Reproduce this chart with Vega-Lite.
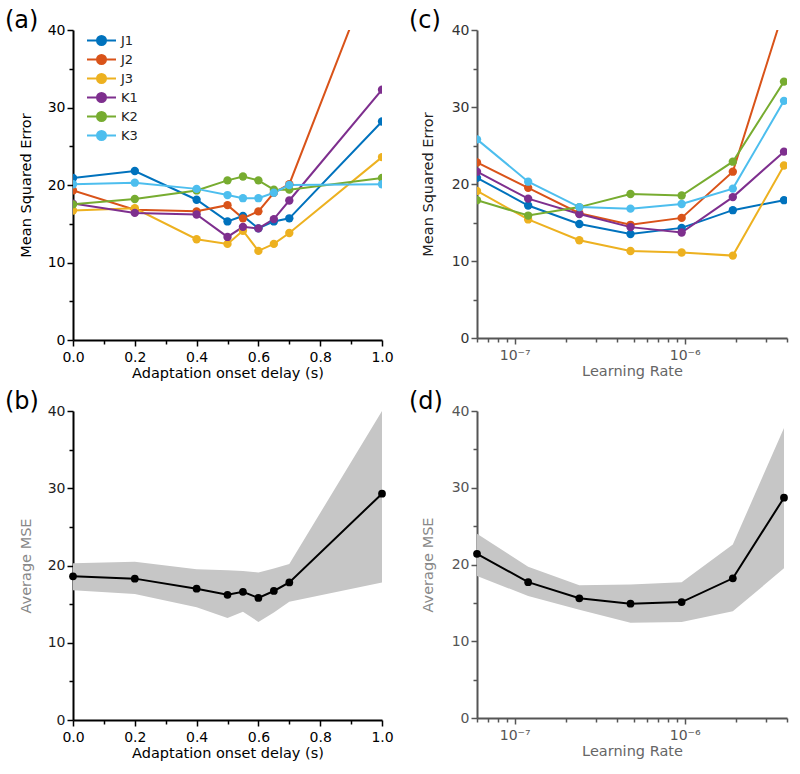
{
  "$schema": "https://vega.github.io/schema/vega-lite/v6.json",
  "padding": {"left": 5, "top": 9, "right": 5, "bottom": 5},
  "config": {
    "font": "DejaVu Sans",
    "view": {"stroke": null},
    "title": {"font": "DejaVu Sans"},
    "axis": {"grid": false, "labelFont": "DejaVu Sans", "titleFont": "DejaVu Sans", "domainColor": "black", "domainWidth": 2, "tickColor": "black", "tickWidth": 1.5, "labelFontSize": 14, "titleFontSize": 14.5, "labelColor": "black", "titleColor": "black", "titleFontWeight": "normal", "labelFlush": false, "labelOverlap": false, "labelBound": false}
  },
  "datasets": {
    "a": [
      {"x": 0, "s": "J1", "v": 20.9}, {"x": 0.2, "s": "J1", "v": 21.8}, {"x": 0.4, "s": "J1", "v": 18.1}, {"x": 0.5, "s": "J1", "v": 15.3}, {"x": 0.55, "s": "J1", "v": 16.0}, {"x": 0.6, "s": "J1", "v": 14.4}, {"x": 0.65, "s": "J1", "v": 15.3}, {"x": 0.7, "s": "J1", "v": 15.7}, {"x": 1.0, "s": "J1", "v": 28.2},
      {"x": 0, "s": "J2", "v": 19.3}, {"x": 0.2, "s": "J2", "v": 16.8}, {"x": 0.4, "s": "J2", "v": 16.6}, {"x": 0.5, "s": "J2", "v": 17.4}, {"x": 0.55, "s": "J2", "v": 15.7}, {"x": 0.6, "s": "J2", "v": 16.6}, {"x": 0.65, "s": "J2", "v": 19.0}, {"x": 0.7, "s": "J2", "v": 20.1}, {"x": 1.0, "s": "J2", "v": 50.9},
      {"x": 0, "s": "J3", "v": 16.7}, {"x": 0.2, "s": "J3", "v": 17.0}, {"x": 0.4, "s": "J3", "v": 13.0}, {"x": 0.5, "s": "J3", "v": 12.4}, {"x": 0.55, "s": "J3", "v": 14.1}, {"x": 0.6, "s": "J3", "v": 11.5}, {"x": 0.65, "s": "J3", "v": 12.4}, {"x": 0.7, "s": "J3", "v": 13.8}, {"x": 1.0, "s": "J3", "v": 23.6},
      {"x": 0, "s": "K1", "v": 17.6}, {"x": 0.2, "s": "K1", "v": 16.4}, {"x": 0.4, "s": "K1", "v": 16.2}, {"x": 0.5, "s": "K1", "v": 13.3}, {"x": 0.55, "s": "K1", "v": 14.6}, {"x": 0.6, "s": "K1", "v": 14.4}, {"x": 0.65, "s": "K1", "v": 15.6}, {"x": 0.7, "s": "K1", "v": 18.0}, {"x": 1.0, "s": "K1", "v": 32.3},
      {"x": 0, "s": "K2", "v": 17.5}, {"x": 0.2, "s": "K2", "v": 18.2}, {"x": 0.4, "s": "K2", "v": 19.3}, {"x": 0.5, "s": "K2", "v": 20.6}, {"x": 0.55, "s": "K2", "v": 21.1}, {"x": 0.6, "s": "K2", "v": 20.6}, {"x": 0.65, "s": "K2", "v": 19.4}, {"x": 0.7, "s": "K2", "v": 19.4}, {"x": 1.0, "s": "K2", "v": 20.9},
      {"x": 0, "s": "K3", "v": 20.1}, {"x": 0.2, "s": "K3", "v": 20.3}, {"x": 0.4, "s": "K3", "v": 19.5}, {"x": 0.5, "s": "K3", "v": 18.7}, {"x": 0.55, "s": "K3", "v": 18.3}, {"x": 0.6, "s": "K3", "v": 18.3}, {"x": 0.65, "s": "K3", "v": 19.0}, {"x": 0.7, "s": "K3", "v": 20.0}, {"x": 1.0, "s": "K3", "v": 20.1}
    ],
    "c": [
      {"x": 6e-8, "s": "J1", "v": 20.8}, {"x": 1.2e-7, "s": "J1", "v": 17.2}, {"x": 2.4e-7, "s": "J1", "v": 14.8}, {"x": 4.8e-7, "s": "J1", "v": 13.5}, {"x": 9.6e-7, "s": "J1", "v": 14.3}, {"x": 1.92e-6, "s": "J1", "v": 16.6}, {"x": 3.84e-6, "s": "J1", "v": 17.9},
      {"x": 6e-8, "s": "J2", "v": 22.8}, {"x": 1.2e-7, "s": "J2", "v": 19.5}, {"x": 2.4e-7, "s": "J2", "v": 16.2}, {"x": 4.8e-7, "s": "J2", "v": 14.7}, {"x": 9.6e-7, "s": "J2", "v": 15.6}, {"x": 1.92e-6, "s": "J2", "v": 21.6}, {"x": 3.84e-6, "s": "J2", "v": 42.7},
      {"x": 6e-8, "s": "J3", "v": 19.1}, {"x": 1.2e-7, "s": "J3", "v": 15.4}, {"x": 2.4e-7, "s": "J3", "v": 12.7}, {"x": 4.8e-7, "s": "J3", "v": 11.3}, {"x": 9.6e-7, "s": "J3", "v": 11.1}, {"x": 1.92e-6, "s": "J3", "v": 10.7}, {"x": 3.84e-6, "s": "J3", "v": 22.4},
      {"x": 6e-8, "s": "K1", "v": 21.6}, {"x": 1.2e-7, "s": "K1", "v": 18.1}, {"x": 2.4e-7, "s": "K1", "v": 16.1}, {"x": 4.8e-7, "s": "K1", "v": 14.4}, {"x": 9.6e-7, "s": "K1", "v": 13.7}, {"x": 1.92e-6, "s": "K1", "v": 18.3}, {"x": 3.84e-6, "s": "K1", "v": 24.2},
      {"x": 6e-8, "s": "K2", "v": 17.9}, {"x": 1.2e-7, "s": "K2", "v": 15.9}, {"x": 2.4e-7, "s": "K2", "v": 17.0}, {"x": 4.8e-7, "s": "K2", "v": 18.7}, {"x": 9.6e-7, "s": "K2", "v": 18.5}, {"x": 1.92e-6, "s": "K2", "v": 22.9}, {"x": 3.84e-6, "s": "K2", "v": 33.3},
      {"x": 6e-8, "s": "K3", "v": 25.8}, {"x": 1.2e-7, "s": "K3", "v": 20.3}, {"x": 2.4e-7, "s": "K3", "v": 17.0}, {"x": 4.8e-7, "s": "K3", "v": 16.8}, {"x": 9.6e-7, "s": "K3", "v": 17.4}, {"x": 1.92e-6, "s": "K3", "v": 19.4}, {"x": 3.84e-6, "s": "K3", "v": 30.8}
    ],
    "b": [
      {"x": 0, "m": 18.6, "lo": 16.8, "hi": 20.3},
      {"x": 0.2, "m": 18.3, "lo": 16.3, "hi": 20.5},
      {"x": 0.4, "m": 17.0, "lo": 14.6, "hi": 19.5},
      {"x": 0.5, "m": 16.2, "lo": 13.2, "hi": 19.4},
      {"x": 0.55, "m": 16.6, "lo": 14.0, "hi": 19.3},
      {"x": 0.6, "m": 15.8, "lo": 12.7, "hi": 19.1},
      {"x": 0.65, "m": 16.7, "lo": 13.9, "hi": 19.6},
      {"x": 0.7, "m": 17.8, "lo": 15.3, "hi": 20.2},
      {"x": 1.0, "m": 29.3, "lo": 17.8, "hi": 40.0}
    ],
    "d": [
      {"x": 6e-8, "m": 21.4, "lo": 18.5, "hi": 24.0},
      {"x": 1.2e-7, "m": 17.7, "lo": 15.9, "hi": 19.7},
      {"x": 2.4e-7, "m": 15.6, "lo": 14.1, "hi": 17.3},
      {"x": 4.8e-7, "m": 14.9, "lo": 12.4, "hi": 17.4},
      {"x": 9.6e-7, "m": 15.1, "lo": 12.5, "hi": 17.7},
      {"x": 1.92e-6, "m": 18.2, "lo": 13.9, "hi": 22.6},
      {"x": 3.84e-6, "m": 28.7, "lo": 19.5, "hi": 37.8}
    ]
  },
  "columns": 2,
  "spacing": {"row": 71, "column": 95},
  "bounds": "flush",
  "resolve": {"scale": {"color": "independent", "x": "independent", "y": "independent"}, "legend": {"color": "independent"}},
  "concat": [
    {
      "title": {"text": "(a)", "anchor": "start", "frame": "group", "dx": -68, "fontSize": 24, "fontWeight": "normal", "baseline": "alphabetic", "offset": -29, "color": "black"},
      "width": 309, "height": 310,
      "data": {"name": "a"},
      "encoding": {
        "x": {"field": "x", "type": "quantitative", "scale": {"domain": [0, 1], "nice": false, "zero": false},
          "axis": {"title": "Adaptation onset delay (s)", "values": [0, 0.1, 0.2, 0.3, 0.4, 0.5, 0.6, 0.7, 0.8, 0.9, 1.0], "labelExpr": "round(datum.value*10)%2==0 ? format(datum.value,'.1f') : ''", "tickSize": {"condition": {"test": "round(datum.value*10)%2==0", "value": 6}, "value": 4}, "labelPadding": 4, "titlePadding": 2}},
        "y": {"field": "v", "type": "quantitative", "scale": {"domain": [0, 40], "nice": false},
          "axis": {"title": "Mean Squared Error", "values": [0, 5, 10, 15, 20, 25, 30, 35, 40], "labelExpr": "datum.value%10==0 ? datum.label : ''", "tickSize": {"condition": {"test": "datum.value%10==0", "value": 6}, "value": 4}, "labelPadding": 2, "titlePadding": 14}},
        "color": {"field": "s", "type": "nominal",
          "scale": {"domain": ["J1", "J2", "J3", "K1", "K2", "K3"], "range": ["#0072BD", "#D95319", "#EDB120", "#7E2F8E", "#77AC30", "#4DBEEE"]},
          "legend": {"title": null, "orient": "none", "legendX": 22, "legendY": 4, "labelFont": "DejaVu Sans", "labelFontSize": 13, "labelColor": "#222", "symbolType": "M-2.9,0L2.9,0M-0.9,0A0.9,0.9,0,1,1,0.9,0A0.9,0.9,0,1,1,-0.9,0Z", "symbolSize": 100, "symbolStrokeWidth": 2, "labelOffset": 13, "rowPadding": 2, "padding": 0}}
      },
      "layer": [
        {"mark": {"type": "line", "strokeWidth": 2, "clip": true}},
        {"mark": {"type": "circle", "size": 70, "opacity": 1, "clip": true}}
      ]
    },
    {
      "title": {"text": "(c)", "anchor": "start", "frame": "group", "dx": -68, "fontSize": 24, "fontWeight": "normal", "baseline": "alphabetic", "offset": -29, "color": "black"},
      "width": 310, "height": 308,
      "data": {"name": "c"},
      "encoding": {
        "x": {"field": "x", "type": "quantitative", "scale": {"type": "log", "domain": [6e-8, 4e-6], "nice": false},
          "axis": {"title": "Learning Rate", "titleColor": "#666", "labelColor": "#555", "domainColor": "#555", "tickColor": "#555", "values": [6e-8, 7e-8, 8e-8, 9e-8, 1e-7, 2e-7, 3e-7, 4e-7, 5e-7, 6e-7, 7e-7, 8e-7, 9e-7, 1e-6, 2e-6, 3e-6, 4e-6], "labelExpr": "abs(datum.value-1e-7)<1e-9 ? '10⁻⁷' : (abs(datum.value-1e-6)<1e-8 ? '10⁻⁶' : '')", "tickSize": {"condition": {"test": "abs(datum.value-1e-7)<1e-9 || abs(datum.value-1e-6)<1e-8", "value": 6}, "value": 4}, "labelPadding": 4, "titlePadding": 2}},
        "y": {"field": "v", "type": "quantitative", "scale": {"domain": [0, 40], "nice": false},
          "axis": {"title": "Mean Squared Error", "titleColor": "#222", "labelColor": "#333", "domainColor": "#555", "tickColor": "#555", "values": [0, 5, 10, 15, 20, 25, 30, 35, 40], "labelExpr": "datum.value%10==0 ? datum.label : ''", "tickSize": {"condition": {"test": "datum.value%10==0", "value": 6}, "value": 4}, "labelPadding": 2, "titlePadding": 16}},
        "color": {"field": "s", "type": "nominal",
          "scale": {"domain": ["J1", "J2", "J3", "K1", "K2", "K3"], "range": ["#0072BD", "#D95319", "#EDB120", "#7E2F8E", "#77AC30", "#4DBEEE"]},
          "legend": null}
      },
      "layer": [
        {"mark": {"type": "line", "strokeWidth": 2, "clip": true}},
        {"mark": {"type": "circle", "size": 70, "opacity": 1, "clip": true}}
      ]
    },
    {
      "title": {"text": "(b)", "anchor": "start", "frame": "group", "dx": -68, "fontSize": 24, "fontWeight": "normal", "baseline": "alphabetic", "offset": -29, "color": "black"},
      "width": 309, "height": 309,
      "data": {"name": "b"},
      "encoding": {
        "x": {"field": "x", "type": "quantitative", "scale": {"domain": [0, 1], "nice": false, "zero": false},
          "axis": {"title": "Adaptation onset delay (s)", "values": [0, 0.1, 0.2, 0.3, 0.4, 0.5, 0.6, 0.7, 0.8, 0.9, 1.0], "labelExpr": "round(datum.value*10)%2==0 ? format(datum.value,'.1f') : ''", "tickSize": {"condition": {"test": "round(datum.value*10)%2==0", "value": 6}, "value": 4}, "labelPadding": 4, "titlePadding": 2}},
        "y": {"type": "quantitative", "scale": {"domain": [0, 40], "nice": false},
          "axis": {"title": "Average MSE", "titleColor": "#888", "labelColor": "#222", "values": [0, 5, 10, 15, 20, 25, 30, 35, 40], "labelExpr": "datum.value%10==0 ? datum.label : ''", "tickSize": {"condition": {"test": "datum.value%10==0", "value": 6}, "value": 4}, "labelPadding": 2, "titlePadding": 14}}
      },
      "layer": [
        {"mark": {"type": "area", "color": "#c6c6c6", "opacity": 1, "clip": true}, "encoding": {"y": {"field": "hi", "type": "quantitative"}, "y2": {"field": "lo"}}},
        {"mark": {"type": "line", "color": "black", "strokeWidth": 2}, "encoding": {"y": {"field": "m", "type": "quantitative"}}},
        {"mark": {"type": "circle", "color": "black", "size": 60, "opacity": 1}, "encoding": {"y": {"field": "m", "type": "quantitative"}}}
      ]
    },
    {
      "title": {"text": "(d)", "anchor": "start", "frame": "group", "dx": -68, "fontSize": 24, "fontWeight": "normal", "baseline": "alphabetic", "offset": -29, "color": "black"},
      "width": 310, "height": 307,
      "data": {"name": "d"},
      "encoding": {
        "x": {"field": "x", "type": "quantitative", "scale": {"type": "log", "domain": [6e-8, 4e-6], "nice": false},
          "axis": {"title": "Learning Rate", "titleColor": "#666", "labelColor": "#555", "domainColor": "#555", "tickColor": "#555", "values": [6e-8, 7e-8, 8e-8, 9e-8, 1e-7, 2e-7, 3e-7, 4e-7, 5e-7, 6e-7, 7e-7, 8e-7, 9e-7, 1e-6, 2e-6, 3e-6, 4e-6], "labelExpr": "abs(datum.value-1e-7)<1e-9 ? '10⁻⁷' : (abs(datum.value-1e-6)<1e-8 ? '10⁻⁶' : '')", "tickSize": {"condition": {"test": "abs(datum.value-1e-7)<1e-9 || abs(datum.value-1e-6)<1e-8", "value": 6}, "value": 4}, "labelPadding": 4, "titlePadding": 2}},
        "y": {"type": "quantitative", "scale": {"domain": [0, 40], "nice": false},
          "axis": {"title": "Average MSE", "titleColor": "#888", "labelColor": "#555", "domainColor": "#555", "tickColor": "#555", "values": [0, 5, 10, 15, 20, 25, 30, 35, 40], "labelExpr": "datum.value%10==0 ? datum.label : ''", "tickSize": {"condition": {"test": "datum.value%10==0", "value": 6}, "value": 4}, "labelPadding": 2, "titlePadding": 16}}
      },
      "layer": [
        {"mark": {"type": "area", "color": "#c6c6c6", "opacity": 1, "clip": true}, "encoding": {"y": {"field": "hi", "type": "quantitative"}, "y2": {"field": "lo"}}},
        {"mark": {"type": "line", "color": "black", "strokeWidth": 2}, "encoding": {"y": {"field": "m", "type": "quantitative"}}},
        {"mark": {"type": "circle", "color": "black", "size": 60, "opacity": 1}, "encoding": {"y": {"field": "m", "type": "quantitative"}}}
      ]
    }
  ]
}
